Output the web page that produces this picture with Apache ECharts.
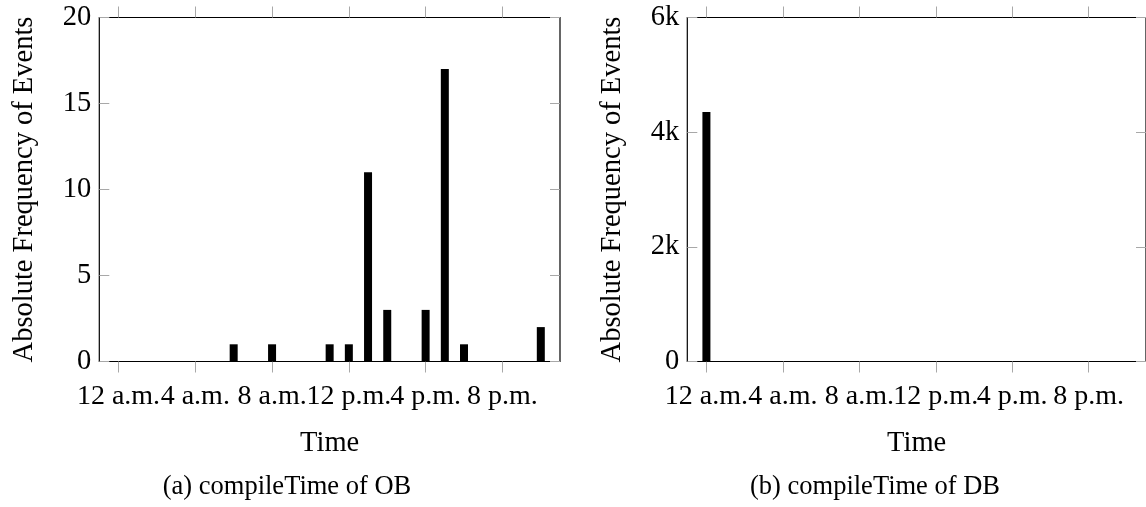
<!DOCTYPE html>
<html>
<head>
<meta charset="utf-8">
<style>
  html, body { margin: 0; padding: 0; background: #fff; }
  #chart { width: 1146px; height: 507px; }
</style>
<script src="https://cdn.jsdelivr.net/npm/echarts@6/dist/echarts.min.js"></script>
</head>
<body>
<div id="chart"></div>
<script>
// Hour-of-day axis: ticks every four hours
const hourTicks = [0, 4, 8, 12, 16, 20];
const tickLabels = ['12 a.m.', '4 a.m.', '8 a.m.', '12 p.m.', '4 p.m.', '8 p.m.'];

// (a) compileTime of OB: events per hour
const obHours = [6, 8, 11, 12, 13, 14, 16, 17, 18, 22];
const obCounts = [1, 1, 1, 1, 11, 3, 3, 17, 1, 2];

// (b) compileTime of DB: events per hour
const dbHours = [0];
const dbCounts = [4350];

const FONT = "'Liberation Serif', 'Times New Roman', serif";
const FS = 28.5;       // axis names and y tick labels
const FS_X = 28;       // hour labels
const FS_CAP = 26.5;   // sub-figure captions
const TICK = '#a8a8a8';

const chart = echarts.init(document.getElementById('chart'), null, { renderer: 'canvas' });

const plotW = 460.7, plotH = 344, plotTop = 17.5;
const grids = [
  { left: 99.3, top: plotTop, width: plotW, height: plotH },
  { left: 687.3, top: plotTop, width: plotW, height: plotH }
];

function hourLabel(v) {
  const i = hourTicks.indexOf(v);
  return i >= 0 ? tickLabels[i] : '';
}

function xAxes(gi) {
  return [
    {
      type: 'value', gridIndex: gi, position: 'bottom', min: -1, max: 23,
      name: 'Time', nameLocation: 'middle', nameGap: 68,
      nameTextStyle: { fontFamily: FONT, fontSize: FS, color: '#000' },
      axisLine: { show: false, onZero: false }, splitLine: { show: false },
      axisTick: { show: true, inside: false, length: 11, customValues: hourTicks, lineStyle: { color: TICK, width: 1 } },
      axisLabel: { show: true, customValues: hourTicks, formatter: hourLabel, margin: 21,
        hideOverlap: false, showMinLabel: true, showMaxLabel: true,
        fontFamily: FONT, fontSize: FS_X, color: '#000' }
    },
    {
      type: 'value', gridIndex: gi, position: 'top', min: -1, max: 23,
      axisLine: { show: false, onZero: false }, splitLine: { show: false },
      axisTick: { show: true, inside: false, length: 11, customValues: hourTicks, lineStyle: { color: TICK, width: 1 } },
      axisLabel: { show: false }
    }
  ];
}

function yAxes(gi, max, interval, fmt) {
  return [
    {
      type: 'value', gridIndex: gi, position: 'left', min: 0, max: max, interval: interval,
      name: 'Absolute Frequency of Events', nameLocation: 'middle', nameGap: 60, nameRotate: 90,
      nameTextStyle: { fontFamily: FONT, fontSize: FS, color: '#000' },
      axisLine: { show: false, onZero: false }, splitLine: { show: false },
      axisTick: { show: true, inside: true, length: 10, lineStyle: { color: TICK, width: 1 } },
      axisLabel: { margin: 8, formatter: fmt, hideOverlap: false, fontFamily: FONT, fontSize: FS, color: '#000' }
    },
    {
      type: 'value', gridIndex: gi, position: 'right', min: 0, max: max, interval: interval,
      axisLine: { show: false, onZero: false }, splitLine: { show: false },
      axisTick: { show: true, inside: true, length: 10, lineStyle: { color: TICK, width: 1 } },
      axisLabel: { show: false }
    }
  ];
}

const kFormat = v => (v === 0 ? '0' : (v / 1000) + 'k');

const option = {
  animation: false,
  backgroundColor: '#fff',
  title: [
    { text: '(a) compileTime of OB', left: 282, top: 469, textAlign: 'center',
      textStyle: { fontFamily: FONT, fontSize: FS_CAP, fontWeight: 'normal', color: '#000' } },
    { text: '(b) compileTime of DB', left: 870, top: 469, textAlign: 'center',
      textStyle: { fontFamily: FONT, fontSize: FS_CAP, fontWeight: 'normal', color: '#000' } }
  ],
  grid: grids.map(g => Object.assign({ show: true, borderColor: '#000', borderWidth: 1.2, backgroundColor: 'transparent' }, g)),
  xAxis: [...xAxes(0), ...xAxes(1)],
  yAxis: [...yAxes(0, 20, 5), ...yAxes(1, 6000, 2000, kFormat)],
  series: [
    {
      type: 'bar', xAxisIndex: 0, yAxisIndex: 0, barWidth: 8,
      itemStyle: { color: '#000' },
      data: obHours.map((h, i) => [h, obCounts[i]])
    },
    {
      type: 'bar', xAxisIndex: 2, yAxisIndex: 2, barWidth: 8,
      itemStyle: { color: '#000' },
      data: dbHours.map((h, i) => [h, dbCounts[i]])
    }
  ]
};

chart.setOption(option);
</script>
</body>
</html>
